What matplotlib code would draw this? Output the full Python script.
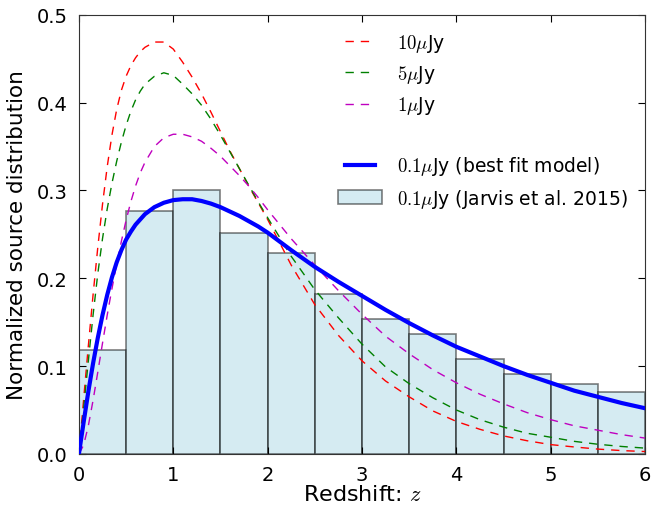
import numpy as np
import matplotlib
matplotlib.use("Agg")
import matplotlib.pyplot as plt
from matplotlib.patches import Rectangle
from matplotlib.legend_handler import HandlerPatch

plt.rcParams["mathtext.fontset"] = "cm"
plt.rcParams["mathtext.rm"] = "serif"

# Jarvis et al. (2015) histogram, 0.1 muJy sample
bin_edges = [0.0, 0.5, 1.0, 1.5, 2.0, 2.5, 3.0, 3.5, 4.0, 4.5, 5.0, 5.5, 6.0]
jarvis_counts = [0.118, 0.277, 0.300, 0.251, 0.229, 0.182,
                 0.154, 0.137, 0.108, 0.091, 0.080, 0.070]

# redshift samples of the model curves
z = [0.0, 0.05, 0.1, 0.15, 0.2, 0.25, 0.3, 0.35, 0.4, 0.45, 0.5, 0.55,
     0.6, 0.65, 0.7, 0.8, 0.9, 1.0, 1.1, 1.2, 1.3, 1.4, 1.5, 1.6, 1.7,
     1.8, 1.9, 2.0, 2.25, 2.5, 2.75, 3.0, 3.25, 3.5, 3.75, 4.0, 4.25,
     4.5, 4.75, 5.0, 5.25, 5.5, 5.75, 6.0]

n_10ujy = [0.0, 0.062, 0.123, 0.181, 0.235, 0.284, 0.327, 0.363, 0.392,
           0.414, 0.430, 0.442, 0.451, 0.458, 0.463, 0.469, 0.469, 0.461,
           0.446, 0.429, 0.410, 0.389, 0.367, 0.345, 0.325, 0.305, 0.286,
           0.267, 0.215, 0.170, 0.135, 0.106, 0.083, 0.065, 0.049, 0.037,
           0.028, 0.0205, 0.015, 0.0106, 0.0079, 0.0055, 0.0038, 0.0027]
n_5ujy = [0.0, 0.052, 0.106, 0.158, 0.205, 0.245, 0.279, 0.308, 0.333,
          0.355, 0.374, 0.390, 0.403, 0.413, 0.421, 0.430, 0.434, 0.431,
          0.421, 0.410, 0.397, 0.381, 0.363, 0.344, 0.325, 0.306, 0.287,
          0.269, 0.225, 0.187, 0.155, 0.125, 0.099, 0.080, 0.064, 0.050,
          0.039, 0.0305, 0.0235, 0.019, 0.0143, 0.011, 0.0085, 0.0066]
n_1ujy = [0.0, 0.010, 0.032, 0.061, 0.093, 0.126, 0.158, 0.188, 0.216,
          0.242, 0.266, 0.287, 0.305, 0.320, 0.332, 0.350, 0.360, 0.364,
          0.364, 0.361, 0.356, 0.348, 0.339, 0.328, 0.317, 0.305, 0.292,
          0.278, 0.245, 0.215, 0.186, 0.159, 0.134, 0.114, 0.096, 0.081,
          0.068, 0.057, 0.047, 0.039, 0.032, 0.027, 0.022, 0.018]
n_best = [0.0, 0.036, 0.071, 0.103, 0.132, 0.158, 0.181, 0.201, 0.218,
          0.232, 0.244, 0.253, 0.261, 0.267, 0.273, 0.281, 0.286, 0.289,
          0.290, 0.290, 0.288, 0.285, 0.281, 0.276, 0.271, 0.265, 0.259,
          0.252, 0.232, 0.213, 0.196, 0.180, 0.164, 0.149, 0.135, 0.122,
          0.111, 0.100, 0.090, 0.081, 0.072, 0.065, 0.058, 0.052]


def wide_rect(legend, orig_handle, xdescent, ydescent, width, height, fontsize):
    return Rectangle((-xdescent - 5, -ydescent), width + 10, height)


fig = plt.figure(figsize=(6.63, 5.10), dpi=100)
ax = fig.add_axes([0.119, 0.108, 0.854, 0.861])

dash = (6, 5)
ax.plot(z, n_10ujy, color="r", lw=1, dashes=dash, label=r"$10\mu$Jy")
ax.plot(z, n_5ujy, color="g", lw=1, dashes=dash, label=r"$5\mu$Jy")
ax.plot(z, n_1ujy, color="m", lw=1, dashes=dash, label=r"$1\mu$Jy")
ax.plot([], [], color="none", label=" ")
ax.plot(z, n_best, color="b", lw=3, label=r"$0.1\mu$Jy (best fit model)",
        zorder=4)

bars = ax.bar(bin_edges[:-1], jarvis_counts, width=np.diff(bin_edges),
              align="edge", facecolor="lightblue", edgecolor="black",
              alpha=0.5, lw=1.2, zorder=1)

ax.set_xlim(0, 6)
ax.set_ylim(0, 0.5)
ax.set_xticks(range(7))
ax.set_yticks([0.0, 0.1, 0.2, 0.3, 0.4, 0.5])
ax.tick_params(direction="in", top=True, right=True, labelsize=14,
               length=5, pad=8)
for s in ax.spines.values():
    s.set_color("#333333")

ax.set_xlabel(r"Redshift: $z$", fontsize=16, labelpad=0)
ax.set_ylabel("Normalized source distribution", fontsize=15.5, labelpad=7)

handles, labels = ax.get_legend_handles_labels()
handles.append(bars.patches[0])
labels.append(r"$0.1\mu$Jy (Jarvis et al. 2015)")
ax.legend(handles, labels, loc="upper right", frameon=False, fontsize=13.5,
          handlelength=1.6, handletextpad=1.2, labelspacing=0.5,
          borderaxespad=0.5,
          handler_map={Rectangle: HandlerPatch(patch_func=wide_rect)})

fig.savefig("out.png", dpi=100)
